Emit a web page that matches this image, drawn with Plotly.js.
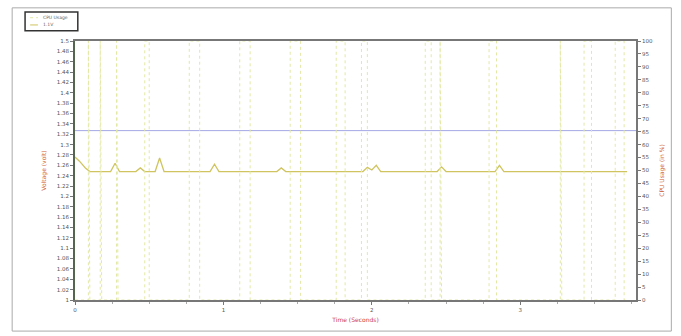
<!DOCTYPE html>
<html>
<head>
<meta charset="utf-8">
<script src="https://cdn.plot.ly/plotly-3.0.1.min.js"></script>
<style>
html,body{margin:0;padding:0;background:#fff;}
#chart{width:681px;height:336px;}
</style>
</head>
<body>
<div id="chart"></div>
<script>
// Voltage trace (seconds, volts)
const voltTime = [0.00, 0.03, 0.07, 0.10, 0.24, 0.27, 0.30, 0.41, 0.44, 0.47, 0.54, 0.57, 0.60, 0.91, 0.94, 0.97, 1.36, 1.39, 1.42, 1.94, 1.97, 2.00, 2.03, 2.06, 2.44, 2.47, 2.50, 2.83, 2.86, 2.89, 3.72];
const voltage  = [1.276, 1.268, 1.255, 1.248, 1.248, 1.264, 1.248, 1.248, 1.255, 1.248, 1.248, 1.274, 1.248, 1.248, 1.262, 1.248, 1.248, 1.255, 1.248, 1.248, 1.256, 1.251, 1.260, 1.248, 1.248, 1.257, 1.248, 1.248, 1.260, 1.248, 1.248];

// Reference level line
const refTime = [0, 3.78];
const refVolt = [1.327, 1.327];

// CPU usage spikes (seconds, %)
const cpuTime  = [0.00, 0.09, 0.09, 0.10, 0.17, 0.17, 0.18, 0.28, 0.28, 0.29, 0.47, 0.47, 0.50, 0.50, 0.51, 0.77, 0.77, 0.84, 0.84, 0.85, 1.11, 1.11, 1.18, 1.18, 1.19, 1.45, 1.45, 1.52, 1.52, 1.53, 1.76, 1.76, 1.82, 1.82, 1.83, 1.93, 1.93, 1.97, 1.97, 1.98, 2.36, 2.36, 2.40, 2.40, 2.46, 2.46, 2.47, 2.79, 2.79, 2.84, 2.84, 2.85, 3.27, 3.27, 3.28, 3.43, 3.43, 3.48, 3.48, 3.49, 3.64, 3.64, 3.70, 3.70, 3.72];
const cpuUsage = [0,    0,    100,  0,    0,    100,  0,    0,    100,  0,    0,    100,  100,  0,    0,    0,    100,  100,  0,    0,    0,    100,  100,  0,    0,    0,    100,  100,  0,    0,    0,    100,  100,  0,    0,    0,    100,  100,  0,    0,    0,    100,  100,  0,    0,    100,  0,    0,    100,  100,  0,    0,    0,    100,  0,    0,    100,  100,  0,    0,    0,    100,  100,  0,    0];

// Tick labels
const leftTickVals = [1, 1.02, 1.04, 1.06, 1.08, 1.1, 1.12, 1.14, 1.16, 1.18, 1.2, 1.22, 1.24, 1.26, 1.28, 1.3, 1.32, 1.34, 1.36, 1.38, 1.4, 1.42, 1.44, 1.46, 1.48, 1.5];
const leftTickText = ["1", "1.02", "1.04", "1.06", "1.08", "1.1", "1.12", "1.14", "1.16", "1.18", "1.2", "1.22", "1.24", "1.26", "1.28", "1.3", "1.32", "1.34", "1.36", "1.38", "1.4", "1.42", "1.44", "1.46", "1.48", "1.5"];
const rightTickVals = [0, 5, 10, 15, 20, 25, 30, 35, 40, 45, 50, 55, 60, 65, 70, 75, 80, 85, 90, 95, 100];
const xTickVals = [0, 1, 2, 3];
const legendNames = ['CPU Usage', '1.1V'];

const cpuColor = '#e2e9a4';
const voltColor = '#cfc460';

const traces = [
  {x: cpuTime, y: cpuUsage, yaxis: 'y2', type: 'scatter', mode: 'lines', name: legendNames[0],
   line: {color: cpuColor, width: 1, dash: 'dot'}},
  {x: refTime, y: refVolt, type: 'scatter', mode: 'lines', name: 'reference',
   line: {color: '#a4a8e4', width: 1}},
  {x: voltTime, y: voltage, type: 'scatter', mode: 'lines', name: legendNames[1],
   line: {color: voltColor, width: 1.3}}
];

const axFont = {family: 'DejaVu Sans, sans-serif', size: 5.5, color: '#555'};
const legFont = {family: 'DejaVu Sans, sans-serif', size: 4.5, color: '#666'};
const layout = {
  width: 681, height: 336,
  margin: {l: 75, r: 45, t: 41, b: 36},
  paper_bgcolor: '#ffffff', plot_bgcolor: '#ffffff',
  showlegend: false,
  xaxis: {range: [0, 3.78], tickvals: xTickVals, ticktext: ['0', '1', '2', '3'],
    showgrid: false, zeroline: false, showline: true, linecolor: '#777', linewidth: 2, mirror: true,
    ticks: 'outside', ticklen: 3, tickcolor: '#777', tickfont: axFont,
    minor: {dtick: 0.25, ticks: 'outside', ticklen: 2, tickcolor: '#aaa'},
    title: {text: 'Time (Seconds)', font: {family: 'DejaVu Sans, sans-serif', size: 6, color: '#d04040'}, standoff: 6}},
  yaxis: {range: [1, 1.5], tickvals: leftTickVals, ticktext: leftTickText,
    showgrid: false, zeroline: false, showline: true, linecolor: '#556650', linewidth: 2,
    ticks: 'outside', ticklen: 3, tickcolor: '#777', tickfont: axFont,
    title: {text: 'Voltage (volt)', font: {family: 'DejaVu Sans, sans-serif', size: 6, color: '#d06030'}, standoff: 10}},
  yaxis2: {range: [0, 100], tickvals: rightTickVals, overlaying: 'y', side: 'right',
    showgrid: false, zeroline: false, showline: true, linecolor: '#777', linewidth: 2,
    ticks: 'outside', ticklen: 3, tickcolor: '#777', tickfont: axFont,
    title: {text: 'CPU Usage (in %)', font: {family: 'DejaVu Sans, sans-serif', size: 6, color: '#d06030'}, standoff: 8}},
  shapes: [
    // outer frame
    {type: 'rect', xref: 'paper', yref: 'paper', x0: -0.112, x1: 1.063, y0: -0.12, y1: 1.128,
     line: {color: '#aaa', width: 1}},
    // legend box (pixel-like placement in paper coords)
    {type: 'rect', xref: 'paper', yref: 'paper', x0: -0.089, x1: 0.005, y0: 1.04, y1: 1.112,
     fillcolor: '#ffffff', line: {color: '#333', width: 1.5}},
    {type: 'line', xref: 'paper', yref: 'paper', x0: -0.080, x1: -0.066, y0: 1.09, y1: 1.09,
     line: {color: cpuColor, width: 1, dash: 'dot'}},
    {type: 'line', xref: 'paper', yref: 'paper', x0: -0.080, x1: -0.066, y0: 1.062, y1: 1.062,
     line: {color: voltColor, width: 1}}
  ],
  annotations: [
    {xref: 'paper', yref: 'paper', x: -0.060, y: 1.09, xanchor: 'left', yanchor: 'middle',
     text: legendNames[0], showarrow: false, font: legFont},
    {xref: 'paper', yref: 'paper', x: -0.060, y: 1.062, xanchor: 'left', yanchor: 'middle',
     text: legendNames[1], showarrow: false, font: legFont}
  ]
};

Plotly.newPlot('chart', traces, layout, {displayModeBar: false, staticPlot: true});
</script>
</body>
</html>
